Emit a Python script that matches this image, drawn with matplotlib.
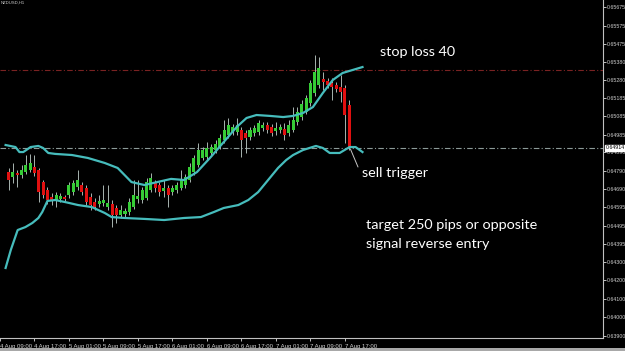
import matplotlib
matplotlib.use("Agg")
import matplotlib.pyplot as plt
from matplotlib.patches import Rectangle
import numpy as np

# H1 candles, 4 Aug 11:00 .. 7 Aug 18:00
opens = [0.64784, 0.64757, 0.64779, 0.64768, 0.64784, 0.64795, 0.64811, 0.64795, 0.64730, 0.64687,
         0.64649, 0.64633, 0.64639, 0.64649, 0.64660, 0.64676, 0.64703, 0.64714, 0.64698, 0.64649,
         0.64622, 0.64612, 0.64617, 0.64595, 0.64612, 0.64590, 0.64552, 0.64558, 0.64568, 0.64595,
         0.64639, 0.64633, 0.64644, 0.64687, 0.64725, 0.64714, 0.64682, 0.64698, 0.64676, 0.64687,
         0.64698, 0.64714, 0.64741, 0.64784, 0.64822, 0.64860, 0.64865, 0.64887, 0.64903, 0.64919,
         0.64957, 0.64984, 0.65000, 0.65000, 0.65011, 0.64995, 0.64973, 0.64995, 0.65000, 0.65022,
         0.65038, 0.65027, 0.65006, 0.65011, 0.65017, 0.64995, 0.65011, 0.65054, 0.65081, 0.65108,
         0.65157, 0.65211, 0.65254, 0.65287, 0.65276, 0.65265, 0.65254, 0.65243, 0.65238, 0.65146]
highs = [0.64806, 0.64833, 0.64795, 0.64822, 0.64876, 0.64882, 0.64876, 0.64806, 0.64741, 0.64703,
         0.64671, 0.64676, 0.64671, 0.64660, 0.64730, 0.64741, 0.64795, 0.64730, 0.64714, 0.64671,
         0.64644, 0.64660, 0.64714, 0.64714, 0.64633, 0.64606, 0.64606, 0.64590, 0.64644, 0.64741,
         0.64741, 0.64703, 0.64752, 0.64779, 0.64741, 0.64730, 0.64741, 0.64714, 0.64714, 0.64730,
         0.64795, 0.64774, 0.64833, 0.64876, 0.64941, 0.64919, 0.64946, 0.64936, 0.64957, 0.64990,
         0.65065, 0.65076, 0.65044, 0.65076, 0.65027, 0.65011, 0.65027, 0.65038, 0.65065, 0.65054,
         0.65054, 0.65044, 0.65054, 0.65044, 0.65049, 0.65065, 0.65135, 0.65135, 0.65173, 0.65200,
         0.65281, 0.65416, 0.65405, 0.65324, 0.65292, 0.65292, 0.65270, 0.65308, 0.65254, 0.65173]
lows = [0.64687, 0.64725, 0.64703, 0.64752, 0.64774, 0.64784, 0.64763, 0.64622, 0.64644, 0.64612,
        0.64606, 0.64595, 0.64622, 0.64628, 0.64644, 0.64660, 0.64687, 0.64660, 0.64606, 0.64579,
        0.64579, 0.64595, 0.64601, 0.64579, 0.64487, 0.64509, 0.64536, 0.64536, 0.64552, 0.64585,
        0.64617, 0.64617, 0.64633, 0.64676, 0.64676, 0.64655, 0.64649, 0.64595, 0.64660, 0.64671,
        0.64687, 0.64698, 0.64730, 0.64768, 0.64811, 0.64849, 0.64849, 0.64871, 0.64887, 0.64909,
        0.64941, 0.64968, 0.64984, 0.64984, 0.64865, 0.64887, 0.64957, 0.64979, 0.64984, 0.65006,
        0.64995, 0.64979, 0.64984, 0.64995, 0.64957, 0.64979, 0.65000, 0.65038, 0.65065, 0.65098,
        0.65141, 0.65195, 0.65238, 0.65227, 0.65238, 0.65173, 0.65216, 0.65162, 0.64941, 0.64903]
closes = [0.64741, 0.64784, 0.64768, 0.64795, 0.64822, 0.64833, 0.64779, 0.64676, 0.64660, 0.64633,
          0.64633, 0.64660, 0.64655, 0.64639, 0.64714, 0.64725, 0.64741, 0.64676, 0.64622, 0.64606,
          0.64595, 0.64628, 0.64633, 0.64617, 0.64552, 0.64552, 0.64579, 0.64574, 0.64622, 0.64660,
          0.64655, 0.64687, 0.64730, 0.64752, 0.64698, 0.64676, 0.64698, 0.64660, 0.64698, 0.64714,
          0.64741, 0.64757, 0.64811, 0.64860, 0.64903, 0.64903, 0.64914, 0.64919, 0.64936, 0.64968,
          0.65011, 0.65038, 0.65027, 0.65038, 0.64957, 0.64968, 0.65011, 0.65022, 0.65049, 0.65038,
          0.65011, 0.64995, 0.65022, 0.65027, 0.64984, 0.65038, 0.65065, 0.65108, 0.65152, 0.65184,
          0.65265, 0.65324, 0.65346, 0.65270, 0.65254, 0.65243, 0.65233, 0.65216, 0.65092, 0.64914]

# Bollinger bands (bar index, price)
upper_idx = [-0.7, 1.6, 2.5, 3.4, 5.1, 6.9, 8.0, 9.2, 10.8, 14.7, 18.4, 22.3, 25.3, 28.5, 31.5, 34.5,
             37.7, 40.7, 43.7, 46.9, 49.9, 52.9, 55.2, 57.5, 60.7, 63.7, 66.0, 68.3, 70.6, 72.9,
             75.2, 77.5, 79.8, 82.1]
upper_val = [0.64930, 0.64919, 0.64892, 0.64892, 0.64919, 0.64925, 0.64914, 0.64887, 0.64882, 0.64876,
             0.64860, 0.64833, 0.64806, 0.64730, 0.64714, 0.64730, 0.64747, 0.64741, 0.64784, 0.64865,
             0.64946, 0.65027, 0.65076, 0.65092, 0.65087, 0.65081, 0.65087, 0.65103, 0.65135, 0.65211,
             0.65281, 0.65319, 0.65335, 0.65351]
lower_idx = [-0.7, 0.5, 2.1, 3.9, 5.5, 6.9, 7.8, 9.0, 10.8, 13.1, 16.1, 19.3, 22.3, 23.9, 26.9, 31.5,
             36.1, 40.7, 44.6, 47.6, 49.9, 53.3, 55.6, 57.9, 60.2, 62.5, 64.4, 66.0, 68.3, 71.3,
             72.9, 74.5, 76.8, 79.1, 80.5, 82.1]
lower_val = [0.64266, 0.64363, 0.64471, 0.64487, 0.64509, 0.64536, 0.64568, 0.64628, 0.64633, 0.64622,
             0.64606, 0.64595, 0.64563, 0.64541, 0.64536, 0.64531, 0.64525, 0.64536, 0.64541, 0.64568,
             0.64590, 0.64606, 0.64633, 0.64676, 0.64741, 0.64806, 0.64849, 0.64876, 0.64903, 0.64925,
             0.64914, 0.64887, 0.64887, 0.64919, 0.64919, 0.64892]

stop_loss = 0.65335
bid = 0.64914

price_ticks = [0.65675, 0.65575, 0.65475, 0.65380, 0.65280, 0.65185, 0.65085, 0.64985, 0.64890,
               0.64790, 0.64690, 0.64595, 0.64495, 0.64395, 0.64300, 0.64200, 0.64100, 0.64000,
               0.63900]
time_idx = [-2, 6, 14, 22, 30, 38, 46, 54, 62, 70, 78]
time_labels = ["4 Aug 09:00", "4 Aug 17:00", "5 Aug 01:00", "5 Aug 09:00", "5 Aug 17:00",
               "6 Aug 01:00", "6 Aug 09:00", "6 Aug 17:00", "7 Aug 01:00", "7 Aug 09:00",
               "7 Aug 17:00"]

BG = "black"
AXIS = "#c0c0c0"
UP = "#36cc36"
DOWN = "#e01010"
BAND = "#46bcbc"

fig = plt.figure(figsize=(6.25, 3.51), dpi=100, facecolor=BG)
ax = fig.add_axes([0, 13 / 351, 603 / 625, 338 / 351], facecolor=BG)

o = np.array(opens)
c = np.array(closes)
x = np.arange(len(o))
colors = np.where(c >= o, UP, DOWN)

ax.vlines(x, lows, highs, color="#a8b4b0", lw=0.7, zorder=2)
ax.bar(x, np.abs(c - o) + 0.00002, bottom=np.minimum(o, c), width=0.7,
       color=colors, zorder=3)

ax.plot(upper_idx, upper_val, color=BAND, lw=1.6, zorder=4)
ax.plot(lower_idx, lower_val, color=BAND, lw=1.6, zorder=4)

ax.axhline(stop_loss, color="#7a2222", lw=0.8, ls=(0, (5, 2, 1, 2)), zorder=1)
ax.axhline(bid, color="#8c9a98", lw=0.8, ls=(0, (5, 2, 1, 2)), zorder=1)

ax.set_xlim(-0.69, 137.9)
ax.set_ylim(0.63888, 0.65713)

for s in ["top", "left"]:
    ax.spines[s].set_visible(False)
for s in ["right", "bottom"]:
    ax.spines[s].set_color(AXIS)
    ax.spines[s].set_linewidth(0.8)

ax.yaxis.tick_right()
ax.set_yticks(price_ticks)
ax.set_yticklabels([f"{v:.5f}" for v in price_ticks])
ax.set_xticks(time_idx)
ax.set_xticklabels(time_labels)
for lab in ax.get_xticklabels():
    lab.set_horizontalalignment("left")
ax.tick_params(axis="y", colors=AXIS, labelcolor="#d0d0d0", length=1.8, width=0.7,
               labelsize=3.8, pad=0.6)
ax.tick_params(axis="x", colors=AXIS, labelcolor="#d0d0d0", length=2.5, width=0.7,
               labelsize=4.3, pad=2)
for lab in ax.get_xticklabels() + ax.get_yticklabels():
    lab.set_fontfamily("Liberation Sans")

# current price box on the scale
ax.text(1.004, bid, f"{bid:.5f}", transform=ax.get_yaxis_transform(), ha="left", va="center",
        fontsize=3.8, family="Liberation Sans", color="black", clip_on=False,
        bbox=dict(boxstyle="square,pad=0.12", fc="white", ec="white"))

# annotations
txt = dict(color="white", family="Lato", fontsize=10.4, va="center", ha="left")
ax.text(380 / 603, (338 - 52) / 338, "stop loss 40", transform=ax.transAxes, **txt)
ax.text(362 / 603, (338 - 173) / 338, "sell trigger", transform=ax.transAxes, **txt)
ax.text(366 / 603, (338 - 225) / 338, "target 250 pips or opposite", transform=ax.transAxes, **txt)
ax.text(366 / 603, (338 - 244) / 338, "signal reverse entry", transform=ax.transAxes, **txt)
ax.annotate("", xy=(x[-1] + 0.2, closes[-1]), xytext=(358 / 603, (338 - 167) / 338),
            textcoords="axes fraction",
            arrowprops=dict(arrowstyle="-", color="#c8c8c8", lw=0.7, shrinkA=0, shrinkB=1))

fig.text(0.001, 0.999, "NZDUSD,H1", color="#d0d0d0", fontsize=3, ha="left", va="top",
         family="Liberation Sans")
fig.patches.append(Rectangle((0, 0), 1, 3 / 351, transform=fig.transFigure,
                             facecolor="#a8a8a8", edgecolor="none"))

fig.savefig("out.png", dpi=100, facecolor=BG)
